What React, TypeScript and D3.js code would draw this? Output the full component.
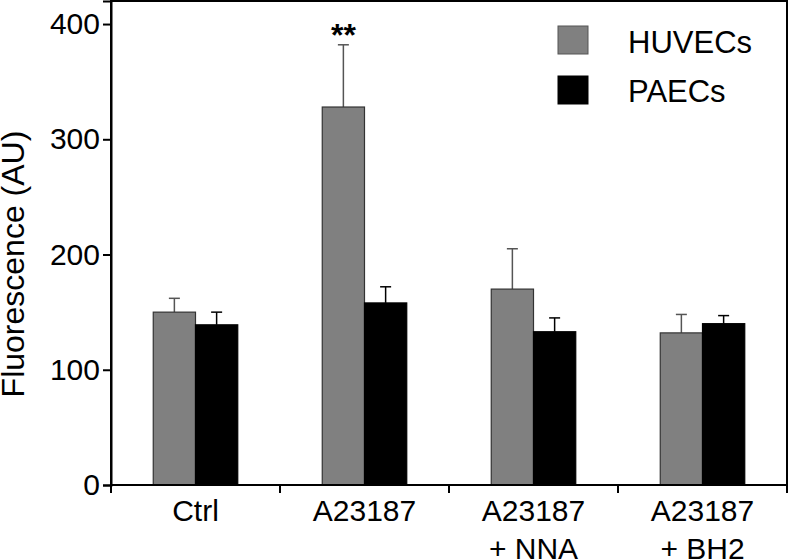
import { useEffect, useRef } from "react";
import * as d3 from "d3";

const categories = [["Ctrl"], ["A23187"], ["A23187", "+ NNA"], ["A23187", "+ BH2"]];
const seriesNames = ["HUVECs", "PAECs"];
const huvecMean = [150, 328, 170, 132];
const huvecSem = [12, 54, 35, 16];
const paecMean = [139, 158, 133, 140];
const paecSem = [11, 14, 12, 7];
const yTicks = [0, 100, 200, 300, 400];
const stars = ["", "**", "", ""];

const colors = ["#808080", "#000000"];
const errColors = ["#555555", "#000000"];

export default function App() {
  const svgRef = useRef<SVGSVGElement>(null);

  useEffect(() => {
    if (!svgRef.current) return;
    const svg = d3.select(svgRef.current);
    svg.selectAll("*").remove();

    const left = 111;
    const right = 787;
    const top = 1;
    const bottom = 485;
    const font = "'Liberation Sans', Arial, sans-serif";

    const x = d3
      .scaleBand<number>()
      .domain(categories.map((_, i) => i))
      .range([left, right])
      .paddingInner(0)
      .paddingOuter(0);

    const inner = d3
      .scaleBand<number>()
      .domain([0, 1])
      .range([x.bandwidth() * 0.25, x.bandwidth() * 0.75]);

    const y = d3.scaleLinear().domain([0, 420]).range([bottom, top]);

    const series = [
      { means: huvecMean, sems: huvecSem },
      { means: paecMean, sems: paecSem },
    ];

    const g = svg.append("g");

    // error bars (upper only)
    series.forEach((s, si) => {
      s.means.forEach((m, ci) => {
        const cx = (x(ci) ?? 0) + (inner(si) ?? 0) + inner.bandwidth() / 2;
        g.append("line")
          .attr("x1", cx)
          .attr("x2", cx)
          .attr("y1", y(m))
          .attr("y2", y(m + s.sems[ci]))
          .attr("stroke", errColors[si])
          .attr("stroke-width", 1.5);
        g.append("line")
          .attr("x1", cx - 5.5)
          .attr("x2", cx + 5.5)
          .attr("y1", y(m + s.sems[ci]))
          .attr("y2", y(m + s.sems[ci]))
          .attr("stroke", errColors[si])
          .attr("stroke-width", 1.5);
      });
    });

    series.forEach((s, si) => {
      g.selectAll(null)
        .data(s.means)
        .enter()
        .append("rect")
        .attr("x", (_, ci) => (x(ci) ?? 0) + (inner(si) ?? 0))
        .attr("y", (d) => y(d))
        .attr("width", inner.bandwidth())
        .attr("height", (d) => y(0) - y(d))
        .attr("fill", colors[si])
        .attr("stroke", si === 0 ? "#333" : "#000")
        .attr("stroke-width", 1.2);
    });

    // significance stars
    stars.forEach((st, ci) => {
      if (!st) return;
      const cx = (x(ci) ?? 0) + (inner(0) ?? 0) + inner.bandwidth() / 2;
      g.append("text")
        .attr("x", cx)
        .attr("y", 46)
        .attr("text-anchor", "middle")
        .style("font-family", font)
        .style("font-size", "32px")
        .style("font-weight", "bold")
        .text(st);
    });

    // frame
    g.append("rect")
      .attr("x", left)
      .attr("y", top)
      .attr("width", right - left)
      .attr("height", bottom - top)
      .attr("fill", "none")
      .attr("stroke", "#000")
      .attr("stroke-width", 2);

    // y axis
    const yAxis = g
      .append("g")
      .attr("transform", `translate(${left},0)`)
      .call(d3.axisLeft(y).tickValues(yTicks).tickSize(8).tickPadding(3));
    yAxis.select(".domain").attr("stroke-width", 2);
    yAxis.selectAll(".tick line").attr("stroke-width", 2);
    yAxis
      .selectAll("text")
      .style("font-family", font)
      .style("font-size", "30px")
      .attr("fill", "#000");

    // x axis ticks at category boundaries
    const bounds = categories.map((_, i) => x(i) ?? 0).concat([right]);
    g.selectAll(null)
      .data(bounds)
      .enter()
      .append("line")
      .attr("x1", (d) => d)
      .attr("x2", (d) => d)
      .attr("y1", bottom)
      .attr("y2", bottom + 8)
      .attr("stroke", "#000")
      .attr("stroke-width", 2);

    categories.forEach((lines, ci) => {
      const t = g
        .append("text")
        .attr("text-anchor", "middle")
        .style("font-family", font)
        .style("font-size", "30px");
      lines.forEach((ln, li) => {
        t.append("tspan")
          .attr("x", (x(ci) ?? 0) + x.bandwidth() / 2)
          .attr("y", 521 + li * 38)
          .text(ln);
      });
    });

    // y label
    g.append("text")
      .attr("transform", `translate(24,264) rotate(-90)`)
      .attr("text-anchor", "middle")
      .style("font-family", font)
      .style("font-size", "32px")
      .text("Fluorescence (AU)");

    // legend
    const legend = g.append("g").attr("transform", "translate(558,26)");
    seriesNames.forEach((name, i) => {
      legend
        .append("rect")
        .attr("x", 0)
        .attr("y", i * 50)
        .attr("width", 30)
        .attr("height", 28)
        .attr("fill", colors[i])
        .attr("stroke", i === 0 ? "#555" : "#000")
        .attr("stroke-width", 1);
      legend
        .append("text")
        .attr("x", 70)
        .attr("y", 27 + i * 49)
        .style("font-family", font)
        .style("font-size", "31px")
        .text(name);
    });
  }, []);

  return (
    <svg
      ref={svgRef}
      width={791}
      height={559}
      style={{ position: "absolute", left: 0, top: 0, background: "#fff" }}
    />
  );
}
